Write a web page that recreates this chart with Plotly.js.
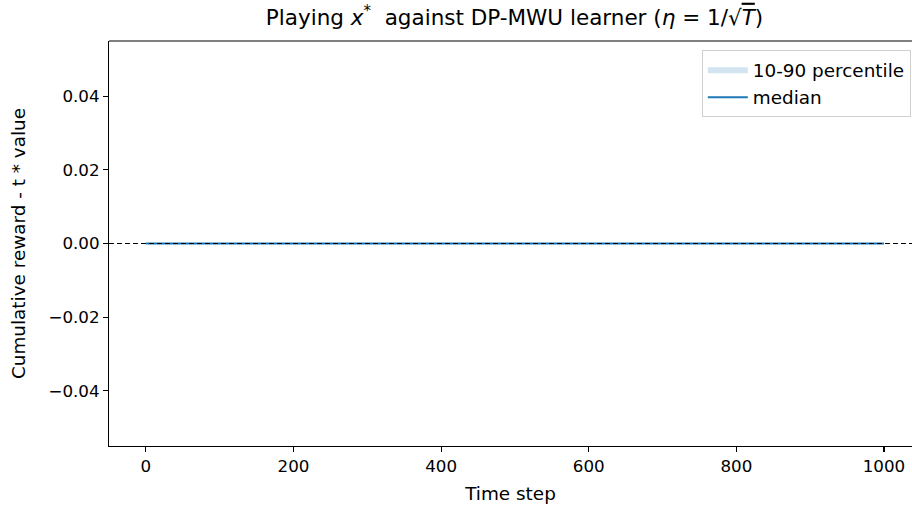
<!DOCTYPE html>
<html>
<head>
<meta charset="utf-8">
<script src="https://cdn.plot.ly/plotly-3.0.1.min.js"></script>
<style>html,body{margin:0;padding:0;background:#fff;}#chart{width:912px;height:506px;}</style>
</head>
<body>
<div id="chart"></div>
<script>
// Data (all runs sit exactly at zero)
const timeSteps = [0, 100, 200, 300, 400, 500, 600, 700, 800, 900, 1000];
const p10 = [0, 0, 0, 0, 0, 0, 0, 0, 0, 0, 0];
const p90 = [0, 0, 0, 0, 0, 0, 0, 0, 0, 0, 0];
const median = [0, 0, 0, 0, 0, 0, 0, 0, 0, 0, 0];
const xTicks = [0, 200, 400, 600, 800, 1000];
const yTicks = [-0.04, -0.02, 0.00, 0.02, 0.04];

const FONT = "DejaVu Sans, sans-serif";
const TICK = 16.7, LAB = 18.4;
const traces = [
  {x: timeSteps, y: p10, mode: "lines", line: {width: 0, color: "rgba(31,119,180,0.2)"},
   showlegend: false, hoverinfo: "skip", legendgroup: "a"},
  {x: timeSteps, y: p90, mode: "lines", fill: "tonexty", fillcolor: "rgba(31,119,180,0.2)",
   line: {width: 0, color: "rgba(31,119,180,0.2)"}, name: "10-90 percentile", legendgroup: "a"},
  {x: timeSteps, y: median, mode: "lines", line: {width: 2.1, color: "#1f77b4"}, name: "median", legendgroup: "b"}
];

const layout = {
  width: 912, height: 506,
  margin: {l: 109, r: 0, t: 41, b: 60},
  paper_bgcolor: "#fff", plot_bgcolor: "#fff",
  font: {family: FONT, size: TICK, color: "#000"},
  title: {
    text: "Playing <i>x</i><sup>*</sup>&nbsp; against DP-MWU learner (<i>η</i> = 1/√<span style='text-decoration:overline'><i>T</i></span>)",
    font: {family: FONT, size: 21.5, color: "#000"},
    x: 0.505, xref: "paper", xanchor: "center", y: 0.966, yanchor: "middle"
  },
  xaxis: {
    range: [-50, 1038], tickvals: xTicks, ticktext: xTicks.map(String),
    showgrid: false, zeroline: false, showline: true, linecolor: "#000", linewidth: 1.1,
    ticks: "outside", ticklen: 5, tickwidth: 1.1, tickcolor: "#000",
    tickfont: {family: FONT, size: TICK, color: "#000"},
    title: {text: "Time step", font: {family: FONT, size: LAB, color: "#000"}, standoff: 12},
    automargin: false
  },
  yaxis: {
    range: [-0.055, 0.055], tickvals: yTicks, tickformat: ".2f",
    showgrid: false, zeroline: false, showline: true, linecolor: "#000", linewidth: 1.1,
    ticks: "outside", ticklen: 5, tickwidth: 1.1, tickcolor: "#000",
    tickfont: {family: FONT, size: TICK, color: "#000"},
    title: {text: "Cumulative reward - t * value", font: {family: FONT, size: LAB, color: "#000"}, standoff: 18},
    automargin: false
  },
  legend: {
    x: 0.9985, xanchor: "right", y: 0.978, yanchor: "top",
    bgcolor: "rgba(255,255,255,0.8)", bordercolor: "#d0d0d0", borderwidth: 1,
    font: {family: FONT, size: LAB, color: "#000"}, traceorder: "grouped", tracegroupgap: 1,
    itemwidth: 40
  },
  shapes: [
    {type: "line", xref: "paper", yref: "y", x0: 0, x1: 1, y0: 0, y1: 0,
     line: {color: "#000", width: 1.1, dash: "5px,3px"}, layer: "above"},
    {type: "line", xref: "paper", yref: "paper", x0: 0, x1: 1, y0: 1, y1: 1,
     line: {color: "#000", width: 1.1}, layer: "above"}
  ]
};

Plotly.newPlot("chart", traces, layout, {displayModeBar: false, staticPlot: true});
</script>
</body>
</html>
